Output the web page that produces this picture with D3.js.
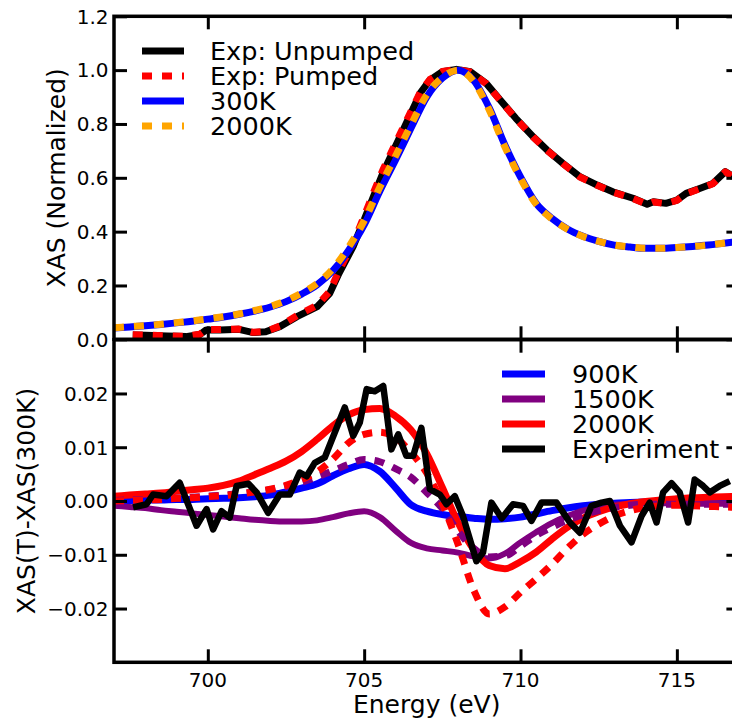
<!DOCTYPE html>
<html>
<head>
<meta charset="utf-8">
<script src="https://cdn.jsdelivr.net/npm/d3@7"></script>
<style>
  html, body { margin: 0; padding: 0; background: #fff; }
  svg { display: block; font-family: 'DejaVu Sans', sans-serif; }
</style>
</head>
<body>
<svg id="chart" width="732" height="719"></svg>
<script>
// ── Data ─────────────────────────────────────────────
// theory energy grid (eV)
const gridE = [697, 697.5, 698, 698.5, 699, 699.5, 700, 700.5, 701, 701.5, 702, 702.5, 703, 703.5,
  704, 704.5, 705, 705.5, 706, 706.5, 707, 707.5, 708, 708.5, 709, 709.5, 710, 710.5, 711, 711.5,
  712, 712.5, 713, 713.5, 714, 714.5, 715, 715.5, 716, 716.5, 717];

// top panel: normalized XAS
const xas300K = [0.042, 0.046, 0.050, 0.055, 0.061, 0.067, 0.075, 0.083, 0.093, 0.105, 0.120, 0.140, 0.168, 0.203,
  0.255, 0.330, 0.425, 0.550, 0.665, 0.785, 0.900, 0.970, 1.000, 0.962, 0.860, 0.722, 0.603, 0.505, 0.450, 0.410,
  0.383, 0.364, 0.350, 0.343, 0.338, 0.338, 0.341, 0.345, 0.350, 0.357, 0.364];
const xas2000K = [0.043, 0.047, 0.051, 0.056, 0.062, 0.068, 0.076, 0.084, 0.094, 0.107, 0.122, 0.143, 0.172, 0.208,
  0.262, 0.342, 0.440, 0.565, 0.680, 0.797, 0.908, 0.973, 1.000, 0.958, 0.852, 0.715, 0.598, 0.502, 0.448, 0.409,
  0.382, 0.364, 0.350, 0.343, 0.338, 0.338, 0.341, 0.345, 0.350, 0.357, 0.364];

const expE = [697.6, 698.0, 698.7, 699.3, 699.75, 699.95, 700.4, 701.0, 701.45, 701.85, 702.3, 702.85, 703.5,
  703.9, 704.2, 704.65, 705.0, 705.3, 705.6, 705.9, 706.25, 706.6, 706.8, 707.1, 707.5, 707.95, 708.4, 708.9,
  709.35, 709.85, 710.4, 710.85, 711.35, 711.9, 712.45, 712.95, 713.6, 714.05, 714.25, 714.65, 715.0, 715.3,
  715.75, 716.15, 716.55, 716.8];
const expUnpumped = [0.016, 0.015, 0.012, 0.010, 0.018, 0.035, 0.035, 0.037, 0.025, 0.028, 0.047, 0.084, 0.121,
  0.171, 0.246, 0.345, 0.444, 0.531, 0.618, 0.692, 0.779, 0.866, 0.916, 0.963, 0.994, 1.003, 0.994, 0.951,
  0.889, 0.821, 0.753, 0.703, 0.654, 0.604, 0.573, 0.548, 0.524, 0.502, 0.511, 0.505, 0.517, 0.542,
  0.561, 0.579, 0.623, 0.604];
const expPumped = [0.017, 0.016, 0.013, 0.011, 0.019, 0.036, 0.036, 0.038, 0.026, 0.029, 0.049, 0.088, 0.127,
  0.178, 0.256, 0.358, 0.458, 0.545, 0.630, 0.703, 0.788, 0.872, 0.920, 0.965, 0.995, 1.003, 0.993, 0.950,
  0.888, 0.820, 0.752, 0.702, 0.653, 0.603, 0.572, 0.547, 0.523, 0.501, 0.510, 0.504, 0.516, 0.541,
  0.560, 0.578, 0.622, 0.603];

// bottom panel: XAS(T) - XAS(300K)
const diff900K = [0.0000, 0.0001, 0.0002, 0.0002, 0.0003, 0.0003, 0.0004, 0.0005, 0.0006, 0.0008, 0.0011, 0.0017,
  0.0024, 0.0032, 0.0047, 0.0060, 0.0068, 0.0055, 0.0025, -0.0007, -0.0019, -0.0025, -0.0029, -0.0032, -0.0034,
  -0.0033, -0.0030, -0.0024, -0.0018, -0.0013, -0.0009, -0.0006, -0.0004, -0.0003, -0.0002, -0.0001, 0.0001,
  0.0002, 0.0002, 0.0003, 0.0003];
const diff1500K = [-0.0009, -0.0011, -0.0013, -0.0017, -0.0020, -0.0023, -0.0026, -0.0029, -0.0032, -0.0035,
  -0.0037, -0.0038, -0.0038, -0.0036, -0.0030, -0.0023, -0.0019, -0.0030, -0.0055, -0.0078, -0.0088, -0.0092,
  -0.0096, -0.0103, -0.0107, -0.0098, -0.0077, -0.0058, -0.0041, -0.0028, -0.0018, -0.0011, -0.0007, -0.0005,
  -0.0004, -0.0004, -0.0004, -0.0005, -0.0005, -0.0005, -0.0005];
const diff2000K = [0.0009, 0.0011, 0.0013, 0.0015, 0.0018, 0.0021, 0.0024, 0.0029, 0.0037, 0.0049, 0.0061,
  0.0074, 0.0092, 0.0115, 0.0140, 0.0160, 0.0170, 0.0172, 0.0158, 0.0132, 0.0088, 0.0025, -0.0040, -0.0090,
  -0.0120, -0.0126, -0.0113, -0.0095, -0.0071, -0.0049, -0.0032, -0.0020, -0.0011, -0.0005, -0.0001, 0.0002,
  0.0004, 0.0006, 0.0007, 0.0008, 0.0009];
const diff1500Kdash = [0.0001, 0.0002, 0.0003, 0.0004, 0.0005, 0.0007, 0.0009, 0.0011, 0.0014, 0.0017, 0.0021,
  0.0027, 0.0035, 0.0045, 0.0056, 0.0068, 0.0077, 0.0073, 0.0060, 0.0044, 0.0016, -0.0014, -0.0056, -0.0088,
  -0.0104, -0.0102, -0.0084, -0.0064, -0.0049, -0.0036, -0.0026, -0.0018, -0.0012, -0.0008, -0.0006, -0.0006,
  -0.0006, -0.0006, -0.0006, -0.0006, -0.0006];
const diff2000Kdash = [0.0000, 0.0001, 0.0002, 0.0003, 0.0005, 0.0006, 0.0008, 0.0010, 0.0013, 0.0017, 0.0022,
  0.0029, 0.0040, 0.0054, 0.0078, 0.0108, 0.0124, 0.0128, 0.0118, 0.0090, 0.0052, -0.0005, -0.0080, -0.0165,
  -0.0210, -0.0197, -0.0170, -0.0145, -0.0118, -0.0088, -0.0062, -0.0043, -0.0028, -0.0018, -0.0012, -0.0009,
  -0.0008, -0.0009, -0.0010, -0.0011, -0.0012];

const diffExpE = [697.61, 698.04, 698.25, 698.68, 699.1, 699.64, 699.96, 700.17, 700.44, 700.7, 700.92, 701.3,
  701.56, 701.93, 702.3, 702.62, 702.94, 703.16, 703.42, 703.74, 704.38, 704.65, 704.86, 705.08, 705.34, 705.61,
  705.87, 706.09, 706.35, 706.57, 706.83, 707.1, 707.42, 707.63, 707.9, 708.16, 708.59, 708.8, 709.07, 709.4,
  709.76, 710.08, 710.35, 710.67, 711.15, 711.58, 711.9, 712.27, 712.59, 712.86, 713.18, 713.55, 713.87, 714.13,
  714.35, 714.56, 714.83, 715.09, 715.36, 715.57, 715.84, 716.05, 716.37, 716.69];
const diffExp = [-0.0012, -0.0006, 0.0012, 0.0009, 0.0034, -0.0046, -0.0015, -0.0053, -0.0019, -0.0031, 0.0028,
  0.0032, 0.0016, -0.0022, 0.0012, 0.0012, 0.0053, 0.0046, 0.0071, 0.0081, 0.0174, 0.0121, 0.0146, 0.0208,
  0.0204, 0.0214, 0.0096, 0.0124, 0.0084, 0.0084, 0.0136, 0.0022, 0.0012, -0.0006, 0.0009, -0.0028, -0.0112,
  -0.0096, -0.0003, -0.0032, -0.0006, -0.0009, -0.0037, -0.0003, -0.0003, -0.0040, -0.0059, -0.0009, -0.0003,
  0.0000, -0.0046, -0.0077, -0.0028, -0.0003, -0.0040, 0.0016, 0.0033, 0.0016, -0.0040, 0.0040, 0.0028,
  0.0016, 0.0028, 0.0037];

const xTicks = [700, 705, 710, 715];
const yTopTicks = [0, 0.2, 0.4, 0.6, 0.8, 1.0, 1.2];
const yBotTicks = [-0.02, -0.01, 0, 0.01, 0.02];

// ── Setup ────────────────────────────────────────────
const svg = d3.select('#chart');
const L = 114, R = 739.4;
const x    = d3.scaleLinear().domain([697, 717]).range([L, R]);
const yTop = d3.scaleLinear().domain([0, 1.2]).range([339.3, 16.3]);
const yBot = d3.scaleLinear().domain([-0.03, 0.03]).range([662.3, 339.7]);

const zip = (xs, ys) => xs.map((e, i) => [e, ys[i]]);

function frame(y, id, yFmt, yTicks, xLabels) {
  const [y0, y1] = y.range();
  const g = svg.append('g');
  svg.append('clipPath').attr('id', id).append('rect')
    .attr('x', L).attr('y', y1).attr('width', R - L).attr('height', y0 - y1);

  const style = sel => {
    sel.select('.domain').remove();
    sel.selectAll('.tick line').attr('stroke', '#000').attr('stroke-width', 3);
    sel.selectAll('.tick text').remove();
  };
  g.append('g').attr('transform', `translate(${L},0)`)
    .call(d3.axisLeft(y).tickValues(yTicks).tickSize(-13)).call(style);
  g.append('g').attr('transform', `translate(${R},0)`)
    .call(d3.axisRight(y).tickValues(yTicks).tickSize(-13)).call(style);
  g.append('g').attr('transform', `translate(0,${y1})`)
    .call(d3.axisTop(x).tickValues(xTicks).tickSize(-13)).call(style);
  g.append('g').attr('transform', `translate(0,${y0})`)
    .call(d3.axisBottom(x).tickValues(xTicks).tickSize(-13)).call(style);

  // tick labels, placed explicitly
  g.selectAll('text.ylab').data(yTicks).join('text').attr('class', 'ylab')
    .attr('x', L - 5.5).attr('y', d => y(d) + 7.3)
    .attr('text-anchor', 'end').attr('font-size', 20).attr('fill', '#000')
    .text(yFmt);
  if (xLabels) {
    g.selectAll('text.xlab').data(xTicks).join('text').attr('class', 'xlab')
      .attr('x', d => x(d)).attr('y', y0 + 24.5)
      .attr('text-anchor', 'middle').attr('font-size', 20).attr('fill', '#000')
      .text(d3.format('d'));
  }
  return g;
}

function series(y, clipId, pts, color, width, dash, curve) {
  const line = d3.line().x(d => x(d[0])).y(d => y(d[1])).curve(curve || d3.curveMonotoneX);
  svg.append('path').datum(pts)
    .attr('clip-path', `url(#${clipId})`)
    .attr('d', line)
    .attr('fill', 'none')
    .attr('stroke', color)
    .attr('stroke-width', width)
    .attr('stroke-dasharray', dash || null)
    .attr('stroke-linejoin', 'round');
}

function legend(items, hx0, hx1, tx, ry) {
  items.forEach((it, i) => {
    const cy = ry + i * 25;
    svg.append('line').attr('x1', hx0).attr('x2', hx1).attr('y1', cy).attr('y2', cy)
      .attr('stroke', it.color).attr('stroke-width', 7)
      .attr('stroke-dasharray', it.dash || null);
    svg.append('text').attr('x', tx).attr('y', cy + 9)
      .attr('font-size', 25.5).attr('fill', '#000').text(it.label);
  });
}

// ── Top panel ────────────────────────────────────────
series(yTop, 'clipTop', zip(expE, expUnpumped), '#000', 7, null, d3.curveLinear);
series(yTop, 'clipTop', zip(expE, expPumped), '#ff0000', 7, '10,10', d3.curveLinear);
series(yTop, 'clipTop', zip(gridE, xas300K), '#0000ff', 7);
series(yTop, 'clipTop', zip(gridE, xas2000K), '#ffa500', 7, '10,10');

// ── Bottom panel ─────────────────────────────────────
series(yBot, 'clipBot', zip(gridE, diff900K), '#0000ff', 7);
series(yBot, 'clipBot', zip(gridE, diff1500K), '#800080', 6);
series(yBot, 'clipBot', zip(gridE, diff2000K), '#ff0000', 7);
series(yBot, 'clipBot', zip(gridE, diff1500Kdash), '#800080', 7, '10,9');
series(yBot, 'clipBot', zip(gridE, diff2000Kdash), '#ff0000', 7, '10,9');
series(yBot, 'clipBot', zip(diffExpE, diffExp), '#000', 6.5, null, d3.curveLinear);

frame(yTop, 'clipTop', d3.format('.1f'), yTopTicks, false);
frame(yBot, 'clipBot', d3.format('.2f'), yBotTicks, true);

// spines
[yTop, yBot].forEach(y => {
  const [y0, y1] = y.range();
  svg.append('rect').attr('x', L).attr('y', y1).attr('width', R - L).attr('height', y0 - y1)
    .attr('fill', 'none').attr('stroke', '#000').attr('stroke-width', 3.5);
});

// legends
legend([
  { label: 'Exp: Unpumped', color: '#000' },
  { label: 'Exp: Pumped', color: '#ff0000', dash: '10,10' },
  { label: '300K', color: '#0000ff' },
  { label: '2000K', color: '#ffa500', dash: '10,10' }
], 142, 184, 210, 51);
legend([
  { label: '900K', color: '#0000ff' },
  { label: '1500K', color: '#800080' },
  { label: '2000K', color: '#ff0000' },
  { label: 'Experiment', color: '#000' }
], 502, 545, 572, 374);

// axis labels
svg.append('text').attr('transform', 'translate(65,177.8) rotate(-90)')
  .attr('text-anchor', 'middle').attr('font-size', 25).text('XAS (Normalized)');
svg.append('text').attr('transform', 'translate(35,501) rotate(-90)')
  .attr('text-anchor', 'middle').attr('font-size', 25).text('XAS(T)-XAS(300K)');
svg.append('text').attr('x', (L + R) / 2).attr('y', 713)
  .attr('text-anchor', 'middle').attr('font-size', 25).text('Energy (eV)');
</script>
</body>
</html>
